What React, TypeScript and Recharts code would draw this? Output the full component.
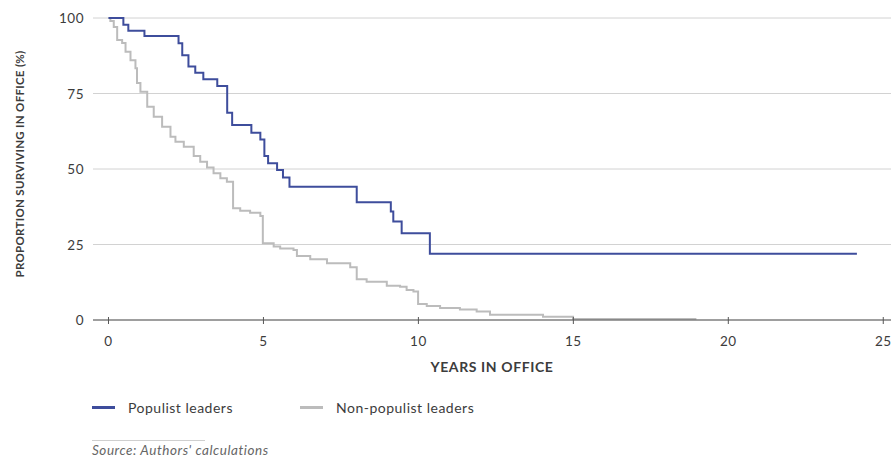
import React from 'react';
import { LineChart, Line, XAxis, YAxis, CartesianGrid } from 'recharts';

// Populist leaders (survival curve)
const populistYears = [0, 0.48, 0.64, 1.16, 2.26, 2.38, 2.58, 2.8, 3.06, 3.51, 3.83, 3.99, 4.61, 4.9, 5.03, 5.15, 5.44, 5.63, 5.84, 8.01, 9.11, 9.19, 9.46, 10.37, 24.15];
const populistValues = [100, 97.8, 95.8, 94, 91.6, 87.7, 83.9, 81.9, 79.7, 77.5, 68.6, 64.6, 62, 59.8, 54.3, 51.9, 49.7, 47.2, 44.1, 39, 35.9, 32.6, 28.7, 21.9, 21.9];

// Non-populist leaders
const nonPopulistYears = [0, 0.06, 0.17, 0.28, 0.44, 0.55, 0.71, 0.87, 0.92, 1.03, 1.25, 1.46, 1.73, 2.0, 2.16, 2.43, 2.75, 2.96, 3.18, 3.39, 3.61, 3.82, 4.02, 4.25, 4.57, 4.9, 4.98, 5.33, 5.54, 5.97, 6.08, 6.51, 7.05, 7.8, 8.01, 8.33, 8.98, 9.41, 9.62, 9.84, 9.99, 10.27, 10.7, 11.34, 11.88, 12.31, 14.02, 14.99, 18.97];
const nonPopulistValues = [100, 99, 97, 92.7, 91.7, 88.8, 86, 83.4, 78.5, 75.6, 70.6, 67.3, 64, 60.7, 59, 57.4, 54.3, 52.4, 50.5, 48.6, 46.9, 45.8, 37, 36.2, 35.5, 34.4, 25.4, 24.3, 23.7, 23.2, 21.2, 20.1, 18.8, 17.5, 13.5, 12.7, 11.3, 11, 9.9, 9.4, 5.3, 4.6, 4.0, 3.5, 2.8, 1.7, 1.1, 0.3, 0.3];

const xTicks = [0, 5, 10, 15, 20, 25];
const yTicks = [0, 25, 50, 75, 100];

const seriesNames = ['Populist leaders', 'Non-populist leaders'];
const seriesColors = ['#3e4d9c', '#bcbcbc'];

const yAxisTitle = 'PROPORTION SURVIVING IN OFFICE (%)';
const xAxisTitle = 'YEARS IN OFFICE';
const sourceText = "Source: Authors' calculations";

const populistData = populistYears.map((x, i) => ({ x, y: populistValues[i] }));
const nonPopulistData = nonPopulistYears.map((x, i) => ({ x, y: nonPopulistValues[i] }));

const FONT = 'Lato, "Open Sans", sans-serif';
const TEXT = '#3c3c3c';
const AXIS_Y = 320;

const XTick = (props: any) => {
  const { x, payload } = props;
  return (
    <g>
      <line x1={x} x2={x} y1={AXIS_Y - 3} y2={AXIS_Y + 4} stroke="#555" strokeWidth={1} />
      <text x={x} y={AXIS_Y + 26} textAnchor="middle" fontSize={13.5} letterSpacing={0.5} fontFamily={FONT} fill={TEXT}>
        {payload.value}
      </text>
    </g>
  );
};

const YTick = (props: any) => {
  const { y, payload } = props;
  return (
    <text x={84} y={y} dy={5} textAnchor="end" fontSize={13.5} letterSpacing={0.5} fontFamily={FONT} fill={TEXT}>
      {payload.value}
    </text>
  );
};

export default function App() {
  return (
    <div style={{ position: 'absolute', left: 0, top: 0, width: 891, height: 459, background: '#fff', overflow: 'hidden' }}>
      <LineChart width={891} height={400} margin={{ top: 18, right: 0, bottom: 20, left: 0 }}>
        <CartesianGrid vertical={false} stroke="#d2d2d2" strokeWidth={1} />
        <XAxis
          type="number"
          dataKey="x"
          domain={[-0.5, 25.25]}
          ticks={xTicks}
          allowDataOverflow
          height={60}
          axisLine={{ stroke: '#555', strokeWidth: 1 }}
          tickLine={false}
          tick={<XTick />}
          interval={0}
          label={{
            content: (p: any) => {
              const vb = p.viewBox || {};
              return (
                <text
                  x={vb.x + vb.width / 2}
                  y={372}
                  textAnchor="middle"
                  fontSize={14}
                  letterSpacing={0.6}
                  fontWeight={700}
                  fontFamily={FONT}
                  fill={TEXT}
                >
                  {xAxisTitle}
                </text>
              );
            },
          }}
        />
        <YAxis
          type="number"
          domain={[0, 100]}
          ticks={yTicks}
          width={93}
          axisLine={false}
          tickLine={false}
          tick={<YTick />}
          interval={0}
          label={{
            content: (p: any) => {
              const vb = p.viewBox || {};
              const cy = vb.y + vb.height / 2 - 5;
              return (
                <text
                  x={20}
                  y={cy}
                  dy={4}
                  transform={`rotate(-90, 20, ${cy})`}
                  textAnchor="middle"
                  fontSize={11.5}
                  letterSpacing={0.3}
                  fontWeight={700}
                  fontFamily={FONT}
                  fill={TEXT}
                >
                  {yAxisTitle}
                </text>
              );
            },
          }}
        />
        <Line
          data={nonPopulistData}
          dataKey="y"
          type="stepAfter"
          stroke={seriesColors[1]}
          strokeWidth={2}
          dot={false}
          isAnimationActive={false}
          name={seriesNames[1]}
        />
        <Line
          data={populistData}
          dataKey="y"
          type="stepAfter"
          stroke={seriesColors[0]}
          strokeWidth={2}
          dot={false}
          isAnimationActive={false}
          name={seriesNames[0]}
        />
      </LineChart>

      {/* Legend */}
      <div style={{ position: 'absolute', left: 92, top: 397, height: 20, fontFamily: FONT, fontSize: 14, letterSpacing: 0.5, color: TEXT }}>
        {seriesNames.map((n, i) => (
          <div
            key={n}
            style={{ position: 'absolute', left: i === 0 ? 0 : 208, top: 0, display: 'flex', alignItems: 'center', whiteSpace: 'nowrap', height: 20 }}
          >
            <span style={{ display: 'inline-block', width: 23, height: 3, background: seriesColors[i], marginRight: 13 }} />
            <span>{n}</span>
          </div>
        ))}
      </div>

      {/* Source */}
      <div style={{ position: 'absolute', left: 92, top: 440, width: 113, height: 1, background: '#cfcfcf' }} />
      <div style={{ position: 'absolute', left: 92, top: 443, fontFamily: FONT, fontSize: 13.5, lineHeight: '15px', letterSpacing: 0.55, fontStyle: 'italic', color: '#666', whiteSpace: 'nowrap' }}>
        {sourceText}
      </div>
    </div>
  );
}
